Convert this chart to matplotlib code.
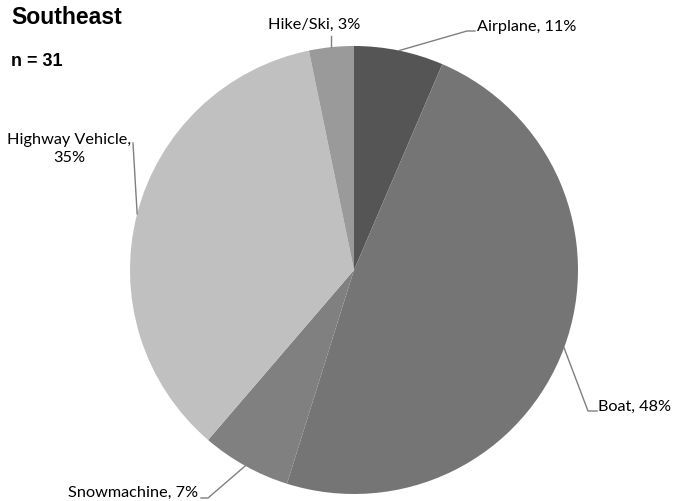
import numpy as np
import matplotlib
matplotlib.use("Agg")
import matplotlib.pyplot as plt

# Data (counts, n = 31) and the label texts as printed on the chart
categories = ["Airplane", "Boat", "Snowmachine", "Highway Vehicle", "Hike/Ski"]
counts = [2, 15, 2, 11, 1]
label_texts = ["Airplane, 11%", "Boat, 48%", "Snowmachine, 7%", "Highway Vehicle,\n35%", "Hike/Ski, 3%"]
colors = ["#555555", "#757575", "#808080", "#c0c0c0", "#9a9a9a"]

W, H = 674, 501
fig = plt.figure(figsize=(W / 100, H / 100), dpi=100)
cx, cy, R = 354, 270, 224
ax = fig.add_axes([(cx - R) / W, (H - cy - R) / H, 2 * R / W, 2 * R / H])
wedges, _ = ax.pie(counts, colors=colors, startangle=90, counterclock=False,
                   radius=1.0, wedgeprops=dict(linewidth=0))
ax.set_xlim(-1, 1)
ax.set_ylim(-1, 1)
ax.set_aspect("equal")
ax.axis("off")

def px(x, y):
    """reference pixel -> data coords"""
    return (x - cx) / R, (cy - y) / R

lab_font = dict(family=["Lato", "DejaVu Sans"], fontsize=11.7, color="#000000")
lc = "#7f7f7f"

# label placement: (text anchor px, ha, leader points px after the wedge edge)
layout = {
    "Airplane": ((477, 27), "left", [(467, 31), (475, 31)]),
    "Boat": ((598, 407), "left", [(588, 411), (597, 411)]),
    "Snowmachine": ((198, 493), "right", [(208, 498), (201, 498)]),
    "Highway Vehicle": ((69, 149), "center", [(133, 143)]),
    "Hike/Ski": ((314, 25), "center", None),
}

for w, cat, txt in zip(wedges, categories, label_texts):
    mid = np.deg2rad((w.theta1 + w.theta2) / 2)
    ex, ey = np.cos(mid), np.sin(mid)
    (tx, ty), ha, pts = layout[cat]
    dx, dy = px(tx, ty)
    ax.text(dx, dy, txt, ha=ha, va="center", multialignment="center",
            linespacing=1.45, **lab_font)
    if pts is None:
        top = px(0, 36)[1]
        ax.plot([ex, ex], [ey, top], color=lc, lw=1, clip_on=False)
    else:
        xs = [ex] + [px(*p)[0] for p in pts]
        ys = [ey] + [px(*p)[1] for p in pts]
        ax.plot(xs, ys, color=lc, lw=1, clip_on=False)

fig.text(11 / W, 1 - 18 / H, "Southeast", fontsize=16.6, fontweight="bold",
         family="Liberation Sans", ha="left", va="center")
fig.text(11 / W, 1 - 62 / H, "n = 31", fontsize=13, fontweight="bold",
         family="Liberation Sans", ha="left", va="center")

fig.savefig("out.png", dpi=100, facecolor="white")
